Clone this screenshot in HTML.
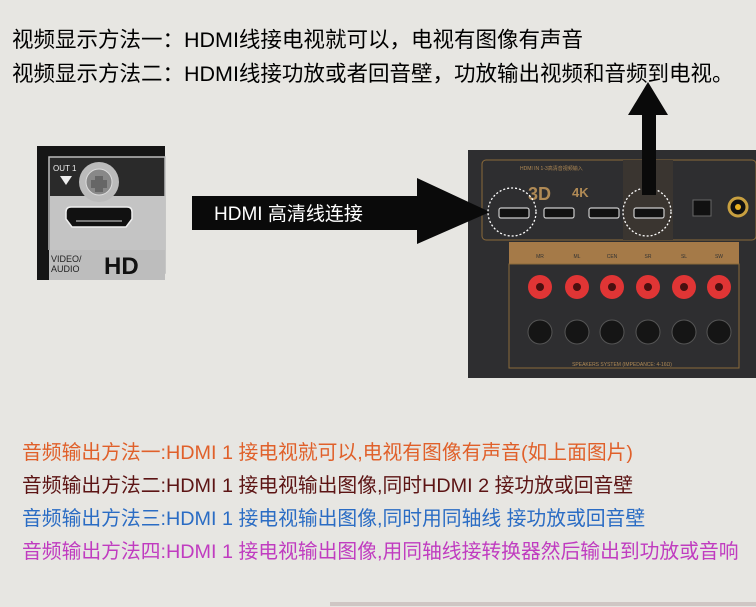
<!DOCTYPE html>
<html><head><meta charset="utf-8"><style>
body{margin:0;width:756px;height:607px;overflow:hidden;background:#e7e6e2;font-family:"Liberation Sans","Noto Sans CJK SC",sans-serif;}
.t{position:absolute;left:12px;font-size:21.5px;color:#000;white-space:nowrap;}
.b{position:absolute;left:22px;font-size:19.8px;white-space:nowrap;font-family:"Liberation Sans","Noto Sans CJK SC",sans-serif;}
svg{position:absolute;left:0;top:0}
</style></head><body>
<svg width="756" height="607">
<rect x="37" y="146" width="128" height="134" fill="#151515"/>
<rect x="49" y="157" width="116" height="116" fill="#2a2a2a" stroke="#bbb" stroke-width="1.5"/>
<rect x="50" y="196" width="115" height="56" fill="#c4c4c4"/>
<rect x="37" y="250" width="128" height="30" fill="#bdbdbd"/>
<rect x="37" y="250" width="12" height="30" fill="#151515"/>
<text x="53" y="171" font-size="8" fill="#eee" font-family="Liberation Sans">OUT 1</text>
<polygon points="60,176 72,176 66,185" fill="#eee"/>
<circle cx="99" cy="182" r="20" fill="#bbb"/>
<circle cx="99" cy="182" r="13" fill="#888" stroke="#ddd"/>
<path d="M95,176h8v4h4v8h-4v4h-8v-4h-4v-8h4z" fill="#666"/>
<path d="M66,212 q0,-5 5,-5 h56 q5,0 5,5 v7 l-6,8 h-54 l-6,-8z" fill="#111" stroke="#eee" stroke-width="1.5"/>
<line x1="76" y1="221" x2="122" y2="221" stroke="#777" stroke-width="2"/>
<text x="51" y="262" font-size="9" fill="#222" font-family="Liberation Sans">VIDEO/</text>
<text x="51" y="272" font-size="9" fill="#222" font-family="Liberation Sans">AUDIO</text>
<text x="104" y="274" font-size="24" font-weight="bold" fill="#111" font-family="Liberation Sans">HD</text>
<rect x="468" y="150" width="288" height="228" fill="#2e2e30"/>
<rect x="482" y="160" width="274" height="80" rx="4" fill="none" stroke="#8a6a3a"/>
<rect x="623" y="160" width="50" height="80" fill="#3a3530"/>
<text x="520" y="170" font-size="5" fill="#b08a55">HDMI IN 1-3高清音视频输入</text>
<text x="528" y="200" font-size="18" font-weight="bold" fill="#b08a55">3D</text>
<text x="572" y="197" font-size="13" font-weight="bold" fill="#b08a55">4K</text>
<g fill="#111" stroke="#ccc" stroke-width="1.2">
<rect x="499" y="208" width="30" height="10" rx="2"/>
<rect x="544" y="208" width="30" height="10" rx="2"/>
<rect x="589" y="208" width="30" height="10" rx="2"/>
<rect x="634" y="208" width="30" height="10" rx="2"/>
</g>
<!-- arrow -->
<polygon points="192,196 417,196 417,178 490,212 417,244 417,230 192,230" fill="#0a0a0a"/>
<circle cx="512" cy="212" r="24" fill="none" stroke="#fff" stroke-dasharray="2,2" stroke-width="1.3"/>
<circle cx="647" cy="212" r="24" fill="none" stroke="#fff" stroke-dasharray="2,2" stroke-width="1.3"/>
<rect x="693" y="200" width="18" height="16" fill="#111" stroke="#666"/>
<circle cx="738" cy="207" r="9" fill="#111" stroke="#c8a040" stroke-width="3"/>
<circle cx="738" cy="207" r="3" fill="#e8b020"/>
<rect x="509" y="242" width="230" height="22" fill="#a57a48"/>
<g font-size="5" fill="#333" text-anchor="middle">
<text x="540" y="258">MR</text><text x="577" y="258">ML</text><text x="612" y="258">CEN</text><text x="648" y="258">SR</text><text x="684" y="258">SL</text><text x="719" y="258">SW</text></g>
<rect x="509" y="264" width="230" height="104" fill="none" stroke="#8a6a3a"/>
<g fill="#e03535"><circle cx="540" cy="287" r="12"/><circle cx="577" cy="287" r="12"/><circle cx="612" cy="287" r="12"/><circle cx="648" cy="287" r="12"/><circle cx="684" cy="287" r="12"/><circle cx="719" cy="287" r="12"/></g>
<g fill="#4a1010"><circle cx="540" cy="287" r="4"/><circle cx="577" cy="287" r="4"/><circle cx="612" cy="287" r="4"/><circle cx="648" cy="287" r="4"/><circle cx="684" cy="287" r="4"/><circle cx="719" cy="287" r="4"/></g>
<g fill="#151515" stroke="#555"><circle cx="540" cy="332" r="12"/><circle cx="577" cy="332" r="12"/><circle cx="612" cy="332" r="12"/><circle cx="648" cy="332" r="12"/><circle cx="684" cy="332" r="12"/><circle cx="719" cy="332" r="12"/></g>
<text x="622" y="366" font-size="5" fill="#b08a55" text-anchor="middle">SPEAKERS SYSTEM (IMPEDANCE: 4-16Ω)</text>
<polygon points="642,195 642,115 628,115 648,82 668,115 656,115 656,195" fill="#0a0a0a"/>
<line x1="330" y1="604" x2="756" y2="604" stroke="#cfc6c4" stroke-width="4"/>
</svg>
<div class="t" style="top:23px">视频显示方法一：HDMI线接电视就可以，电视有图像有声音</div>
<div class="t" style="top:57px">视频显示方法二：HDMI线接功放或者回音壁，功放输出视频和音频到电视。</div>
<div style="position:absolute;left:214px;top:199px;font-size:19px;color:#fff;white-space:nowrap">HDMI 高清线连接</div>
<div class="b" style="top:436px;color:#e0602a">音频输出方法一:HDMI 1 接电视就可以,电视有图像有声音(如上面图片)</div>
<div class="b" style="top:469px;color:#5c1414">音频输出方法二:HDMI 1 接电视输出图像,同时HDMI 2 接功放或回音壁</div>
<div class="b" style="top:502px;color:#2a6cc4">音频输出方法三:HDMI 1 接电视输出图像,同时用同轴线 接功放或回音壁</div>
<div class="b" style="top:535px;color:#c03cc0">音频输出方法四:HDMI 1 接电视输出图像,用同轴线接转换器然后输出到功放或音响</div>
</body></html>
